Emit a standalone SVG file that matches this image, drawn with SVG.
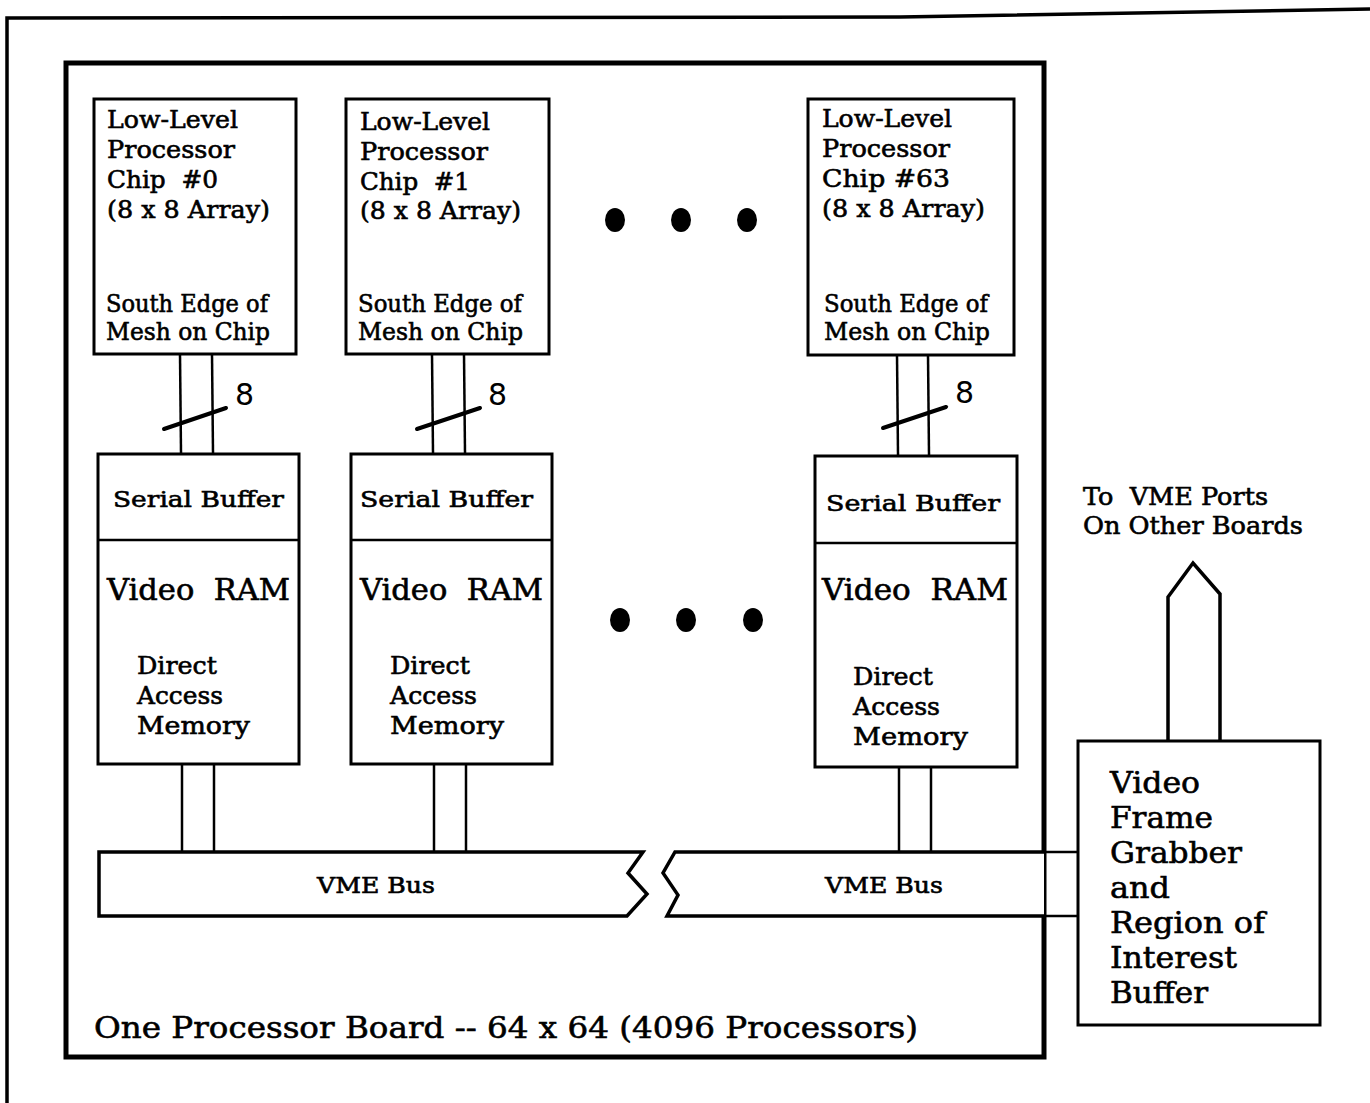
<svg xmlns="http://www.w3.org/2000/svg" width="1370" height="1103" viewBox="0 0 1370 1103">
<style>
  .box { fill: #fff; stroke: #000; stroke-width: 3; }
  .line { stroke: #000; stroke-width: 2.5; fill: none; }
  .slash { stroke: #000; stroke-width: 4; stroke-linecap: round; }
  .t { font-family: "DejaVu Serif", "Liberation Serif", serif; fill: #000; stroke: #000; stroke-width: 0.6; }
  .chip { font-size: 24px; }
  .sb { font-size: 23px; }
  .vr { font-size: 29px; }
  .dam { font-size: 24px; }
  .fg { font-size: 30px; }
  .bus { font-size: 22px; }
  .num { font-family: "DejaVu Sans", "Liberation Sans", sans-serif; font-size: 30px; fill: #000; }
</style>
<rect width="1370" height="1103" fill="#fff"/>
<!-- outer frame -->
<polyline points="7,1103 7,18 900,17 1370,9" fill="none" stroke="#000" stroke-width="3.5"/>
<!-- board -->
<g id="board">
  <rect x="66" y="63" width="978" height="994" fill="none" stroke="#000" stroke-width="5"/>
  <text class="t" x="94" y="1038" font-size="30" textLength="824" lengthAdjust="spacingAndGlyphs">One Processor Board -- 64 x 64 (4096 Processors)</text>
</g>

<g id="connectors">
  <!-- chip to serial buffer -->
  <line class="line" x1="180" y1="354" x2="181" y2="453"/>
  <line class="line" x1="212" y1="354" x2="213" y2="453"/>
  <line class="slash" x1="164" y1="429" x2="226" y2="408"/>
  <line class="line" x1="432" y1="354" x2="433" y2="453"/>
  <line class="line" x1="464" y1="354" x2="465" y2="453"/>
  <line class="slash" x1="417" y1="429" x2="480" y2="408"/>
  <line class="line" x1="897" y1="355" x2="898" y2="455"/>
  <line class="line" x1="928" y1="355" x2="929" y2="455"/>
  <line class="slash" x1="883" y1="428" x2="946" y2="407"/>
  <!-- memory to bus -->
  <line class="line" x1="182" y1="764" x2="182" y2="852"/>
  <line class="line" x1="214" y1="764" x2="214" y2="852"/>
  <line class="line" x1="434" y1="764" x2="434" y2="852"/>
  <line class="line" x1="466" y1="764" x2="466" y2="852"/>
  <line class="line" x1="899" y1="767" x2="899" y2="852"/>
  <line class="line" x1="931" y1="767" x2="931" y2="852"/>
  <!-- bus to frame grabber -->
  <line class="line" x1="1044" y1="852" x2="1078" y2="852"/>
  <line class="line" x1="1044" y1="916" x2="1078" y2="916"/>
  <!-- arrow to other boards -->
  <path d="M1168,740 L1168,597 L1193,563 L1220,594 L1220,740" fill="none" stroke="#000" stroke-width="3.5" stroke-linejoin="miter"/>
</g>

<text class="num" x="235" y="405">8</text>
<text class="num" x="488" y="405">8</text>
<text class="num" x="955" y="403">8</text>

<g id="chip0">
  <rect class="box" x="94" y="99" width="202" height="255"/>
  <text class="t chip" x="107" y="128" textLength="131" lengthAdjust="spacingAndGlyphs">Low-Level</text>
  <text class="t chip" x="107" y="158" textLength="128" lengthAdjust="spacingAndGlyphs">Processor</text>
  <text class="t chip" x="107" y="188" textLength="111" lengthAdjust="spacingAndGlyphs" xml:space="preserve">Chip  #0</text>
  <text class="t chip" x="107" y="218" textLength="163" lengthAdjust="spacingAndGlyphs">(8 x 8 Array)</text>
  <text class="t chip" x="106" y="312" textLength="162" lengthAdjust="spacingAndGlyphs">South Edge of</text>
  <text class="t chip" x="106" y="340" textLength="164" lengthAdjust="spacingAndGlyphs">Mesh on Chip</text>
</g>
<g id="chip1">
  <rect class="box" x="346" y="99" width="203" height="255"/>
  <text class="t chip" x="360" y="130" textLength="130" lengthAdjust="spacingAndGlyphs">Low-Level</text>
  <text class="t chip" x="360" y="160" textLength="128" lengthAdjust="spacingAndGlyphs">Processor</text>
  <text class="t chip" x="360" y="190" textLength="110" lengthAdjust="spacingAndGlyphs" xml:space="preserve">Chip  #1</text>
  <text class="t chip" x="360" y="219" textLength="161" lengthAdjust="spacingAndGlyphs">(8 x 8 Array)</text>
  <text class="t chip" x="358" y="312" textLength="164" lengthAdjust="spacingAndGlyphs">South Edge of</text>
  <text class="t chip" x="358" y="340" textLength="165" lengthAdjust="spacingAndGlyphs">Mesh on Chip</text>
</g>
<g id="chip63">
  <rect class="box" x="808" y="99" width="206" height="256"/>
  <text class="t chip" x="822" y="127" textLength="130" lengthAdjust="spacingAndGlyphs">Low-Level</text>
  <text class="t chip" x="822" y="157" textLength="128" lengthAdjust="spacingAndGlyphs">Processor</text>
  <text class="t chip" x="822" y="187" textLength="128" lengthAdjust="spacingAndGlyphs">Chip #63</text>
  <text class="t chip" x="822" y="217" textLength="163" lengthAdjust="spacingAndGlyphs">(8 x 8 Array)</text>
  <text class="t chip" x="824" y="312" textLength="164" lengthAdjust="spacingAndGlyphs">South Edge of</text>
  <text class="t chip" x="824" y="340" textLength="166" lengthAdjust="spacingAndGlyphs">Mesh on Chip</text>
</g>

<ellipse cx="615" cy="220" rx="10" ry="12"/>
<ellipse cx="681" cy="220" rx="10" ry="12"/>
<ellipse cx="747" cy="220" rx="10" ry="12"/>
<ellipse cx="620" cy="620" rx="10" ry="12"/>
<ellipse cx="686" cy="620" rx="10" ry="12"/>
<ellipse cx="753" cy="620" rx="10" ry="12"/>

<g id="mem0">
  <rect class="box" x="98" y="454" width="201" height="310"/>
  <line class="line" x1="98" y1="540" x2="299" y2="540" stroke-width="3"/>
  <text class="t sb" x="113" y="507" textLength="171" lengthAdjust="spacingAndGlyphs">Serial Buffer</text>
  <text class="t vr" x="107" y="600" textLength="183" lengthAdjust="spacingAndGlyphs" xml:space="preserve">Video  RAM</text>
  <text class="t dam" x="137" y="674" textLength="80" lengthAdjust="spacingAndGlyphs">Direct</text>
  <text class="t dam" x="137" y="704" textLength="86" lengthAdjust="spacingAndGlyphs">Access</text>
  <text class="t dam" x="137" y="734" textLength="113" lengthAdjust="spacingAndGlyphs">Memory</text>
</g>
<g id="mem1">
  <rect class="box" x="351" y="454" width="201" height="310"/>
  <line class="line" x1="351" y1="540" x2="552" y2="540" stroke-width="3"/>
  <text class="t sb" x="360" y="507" textLength="173" lengthAdjust="spacingAndGlyphs">Serial Buffer</text>
  <text class="t vr" x="360" y="600" textLength="183" lengthAdjust="spacingAndGlyphs" xml:space="preserve">Video  RAM</text>
  <text class="t dam" x="390" y="674" textLength="80" lengthAdjust="spacingAndGlyphs">Direct</text>
  <text class="t dam" x="390" y="704" textLength="87" lengthAdjust="spacingAndGlyphs">Access</text>
  <text class="t dam" x="390" y="734" textLength="114" lengthAdjust="spacingAndGlyphs">Memory</text>
</g>
<g id="mem63">
  <rect class="box" x="815" y="456" width="202" height="311"/>
  <line class="line" x1="815" y1="543" x2="1017" y2="543" stroke-width="3"/>
  <text class="t sb" x="826" y="511" textLength="174" lengthAdjust="spacingAndGlyphs">Serial Buffer</text>
  <text class="t vr" x="822" y="600" textLength="186" lengthAdjust="spacingAndGlyphs" xml:space="preserve">Video  RAM</text>
  <text class="t dam" x="853" y="685" textLength="80" lengthAdjust="spacingAndGlyphs">Direct</text>
  <text class="t dam" x="853" y="715" textLength="87" lengthAdjust="spacingAndGlyphs">Access</text>
  <text class="t dam" x="853" y="745" textLength="115" lengthAdjust="spacingAndGlyphs">Memory</text>
</g>

<g id="vmebus-left">
  <path d="M99,852 L643,852 L628,873 L647,894 L627,916 L99,916 Z" fill="#fff" stroke="#000" stroke-width="3.5" stroke-linejoin="miter"/>
  <text class="t bus" x="317" y="893" textLength="118" lengthAdjust="spacingAndGlyphs">VME Bus</text>
</g>
<g id="vmebus-right">
  <path d="M1044,852 L675,852 L663,873 L678,895 L667,916 L1044,916" fill="#fff" stroke="#000" stroke-width="3.5" stroke-linejoin="miter"/>
  <text class="t bus" x="825" y="893" textLength="118" lengthAdjust="spacingAndGlyphs">VME Bus</text>
</g>

<g id="framegrabber">
  <rect class="box" x="1078" y="741" width="242" height="284"/>
  <text class="t fg" x="1110" y="793" textLength="90" lengthAdjust="spacingAndGlyphs">Video</text>
  <text class="t fg" x="1110" y="828" textLength="103" lengthAdjust="spacingAndGlyphs">Frame</text>
  <text class="t fg" x="1110" y="863" textLength="132" lengthAdjust="spacingAndGlyphs">Grabber</text>
  <text class="t fg" x="1110" y="898" textLength="60" lengthAdjust="spacingAndGlyphs">and</text>
  <text class="t fg" x="1110" y="933" textLength="155" lengthAdjust="spacingAndGlyphs">Region of</text>
  <text class="t fg" x="1110" y="968" textLength="127" lengthAdjust="spacingAndGlyphs">Interest</text>
  <text class="t fg" x="1110" y="1003" textLength="98" lengthAdjust="spacingAndGlyphs">Buffer</text>
</g>

<g id="other-boards">
  <text class="t" font-size="24" x="1083" y="505" textLength="185" lengthAdjust="spacingAndGlyphs" xml:space="preserve">To  VME Ports</text>
  <text class="t" font-size="24" x="1083" y="534" textLength="220" lengthAdjust="spacingAndGlyphs">On Other Boards</text>
</g>
</svg>
